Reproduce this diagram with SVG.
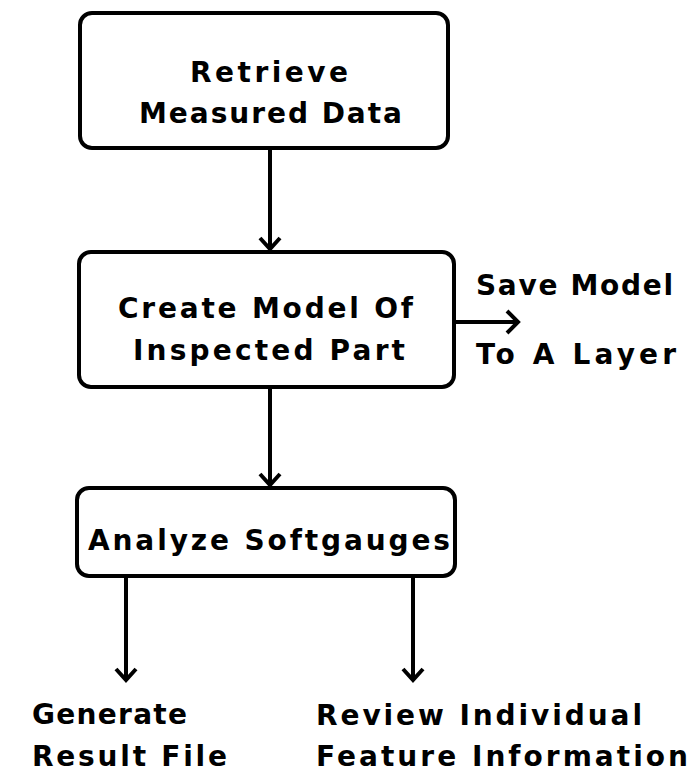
<svg xmlns="http://www.w3.org/2000/svg" width="693" height="774" viewBox="0 0 693 774">
  <style>
    .box { fill: #ffffff; stroke: #000000; stroke-width: 4; }
    .wire { fill: none; stroke: #000000; stroke-width: 4; }
    .head { fill: none; stroke: #000000; stroke-width: 4; stroke-linejoin: miter; }
    text { font-family: "DejaVu Sans", "Liberation Sans", sans-serif; font-weight: bold; font-size: 28px; fill: #000000; }
  </style>
  <rect width="693" height="774" fill="#ffffff"/>

  <g id="connectors">
    <line class="wire" x1="270" y1="148" x2="270" y2="249"/>
    <polyline class="head" points="260,238 270,249 280,238"/>
    <line class="wire" x1="270" y1="387" x2="270" y2="485"/>
    <polyline class="head" points="260,474 270,485 280,474"/>
    <line class="wire" x1="454" y1="322" x2="518" y2="322"/>
    <polyline class="head" points="507,311 518,322 507,333"/>
    <line class="wire" x1="126" y1="576" x2="126" y2="680"/>
    <polyline class="head" points="116,669 126,680 136,669"/>
    <line class="wire" x1="413" y1="576" x2="413" y2="680"/>
    <polyline class="head" points="403,669 413,680 423,669"/>
  </g>

  <g id="retrieve">
    <rect class="box" x="80" y="13" width="368" height="135" rx="12"/>
    <text x="190" y="82" textLength="158" lengthAdjust="spacing">Retrieve</text>
    <text x="139" y="123" textLength="263" lengthAdjust="spacing">Measured Data</text>
  </g>

  <g id="create-model">
    <rect class="box" x="79" y="252" width="375" height="135" rx="12"/>
    <text x="118" y="318" textLength="295" lengthAdjust="spacing">Create Model Of</text>
    <text x="133" y="360" textLength="272" lengthAdjust="spacing">Inspected Part</text>
  </g>

  <g id="save-model">
    <text x="476" y="295" textLength="197" lengthAdjust="spacing">Save Model</text>
    <text x="476" y="364" textLength="200" lengthAdjust="spacing">To A Layer</text>
  </g>

  <g id="analyze">
    <rect class="box" x="77" y="488" width="378" height="88" rx="12"/>
    <text x="88" y="550" textLength="362" lengthAdjust="spacing">Analyze Softgauges</text>
  </g>

  <g id="result-file">
    <text x="32" y="724" textLength="155" lengthAdjust="spacing">Generate</text>
    <text x="32" y="766" textLength="195" lengthAdjust="spacing">Result File</text>
  </g>

  <g id="review-feature">
    <text x="316" y="725" textLength="326" lengthAdjust="spacing">Review Individual</text>
    <text x="316" y="766" textLength="372" lengthAdjust="spacing">Feature Information</text>
  </g>
</svg>
